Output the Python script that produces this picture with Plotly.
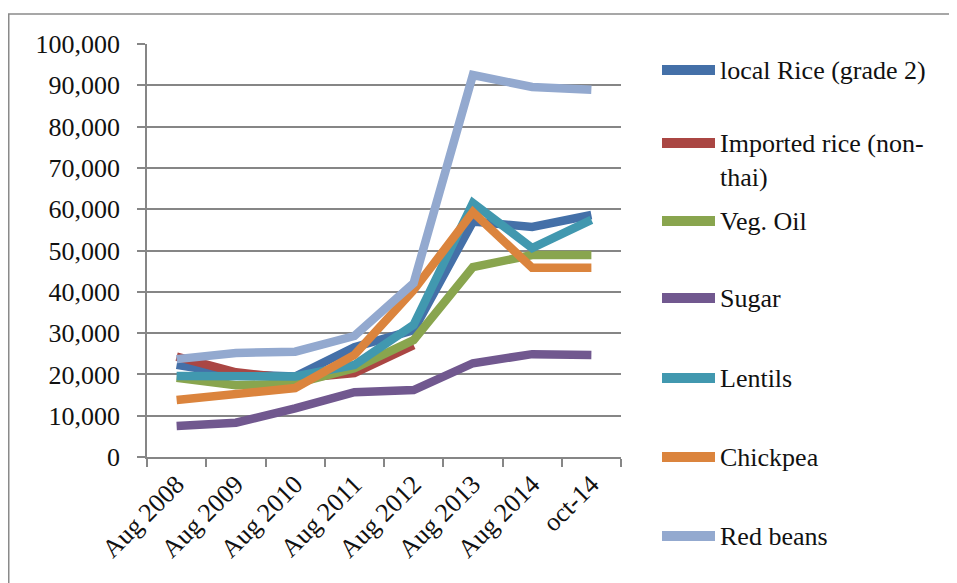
import plotly.graph_objects as go

periods = ["Aug 2008", "Aug 2009", "Aug 2010", "Aug 2011", "Aug 2012", "Aug 2013", "Aug 2014", "oct-14"]

local_rice = [22300, 20000, 19500, 26600, 30700, 57000, 55700, 58600]
imported_rice = [24300, 20500, 19000, 20300, 27100, None, None, None]
veg_oil = [19200, 17400, 17800, 21500, 28300, 46000, 48900, 48900]
sugar = [7500, 8300, 11800, 15700, 16200, 22700, 24900, 24700]
lentils = [19600, 19600, 19500, 22300, 32000, 61500, 50600, 57400]
chickpea = [13800, 15000, 16700, 24700, 40400, 59300, 45800, 45800]
red_beans = [23700, 25200, 25500, 29300, 42100, 92500, 89600, 88900]

names = ["local Rice (grade 2)", "Imported rice (non-<br>thai)", "Veg. Oil", "Sugar",
         "Lentils", "Chickpea", "Red beans"]
series = [local_rice, imported_rice, veg_oil, sugar, lentils, chickpea, red_beans]
colors = ["#4470A8", "#AA4643", "#89A54E", "#71588F", "#4198AF", "#DB843D", "#93A9CF"]

# page body has an 8px margin, so everything is laid out 8px up/left
OFF = 8
W, H = 957 - OFF, 583 - OFF
L, R, T, B = 147 - OFF, 621 - OFF, 44 - OFF, 457 - OFF
pw, ph = R - L, B - T
FONT = "Liberation Serif"

fig = go.Figure()
for name, vals, col in zip(names, series, colors):
    fig.add_trace(go.Scatter(x=periods, y=vals, mode="lines", name=name,
                             line=dict(color=col, width=8.5), connectgaps=False,
                             showlegend=False))

# legend drawn by hand, Excel style
leg_y = [70, 143, 221, 298, 378, 457, 536]
shapes = []
annotations = []
for name, col, py in zip(names, colors, leg_y):
    yp = (B - (py - OFF)) / ph
    shapes.append(dict(type="line", xref="paper", yref="paper",
                       x0=(662 - OFF - L) / pw, x1=(715 - OFF - L) / pw, y0=yp, y1=yp,
                       line=dict(color=col, width=10)))
    annotations.append(dict(xref="paper", yref="paper", x=(718 - OFF - L) / pw, y=yp,
                            text=name, showarrow=False, xanchor="left",
                            yanchor="top" if "<br>" in name else "middle",
                            yshift=16 if "<br>" in name else 0,
                            align="left",
                            font=dict(family=FONT, size=26, color="#111")))

# outer chart frame (left and top edges visible, the rest runs off the picture)
shapes.append(dict(type="rect", xref="paper", yref="paper",
                   x0=(0.75 - L) / pw, x1=(970 - L) / pw,
                   y0=(B - (14 - OFF)) / ph, y1=(B - 600) / ph,
                   line=dict(color="#8a8a8a", width=1.5), fillcolor="rgba(0,0,0,0)", layer="below"))

fig.update_layout(
    width=W, height=H,
    margin=dict(l=L, r=W - R, t=T, b=H - B),
    paper_bgcolor="white", plot_bgcolor="white",
    shapes=shapes, annotations=annotations,
    showlegend=False,
)
fig.update_xaxes(
    type="category", tickson="boundaries", ticks="outside", ticklen=8,
    tickcolor="#868686", tickwidth=1.5,
    showline=True, linecolor="#868686", linewidth=1.5, showgrid=False,
    tickangle=-45, tickfont=dict(family=FONT, size=26, color="#111"),
    range=[-0.5, 7.5],
)
fig.update_yaxes(
    range=[0, 100000], dtick=10000, tickformat=",", ticks="outside", ticklen=8,
    tickcolor="#868686", tickwidth=1.5,
    showline=True, linecolor="#868686", linewidth=1.5,
    showgrid=True, gridcolor="#868686", gridwidth=1.5, zeroline=False,
    ticklabelstandoff=12,
    tickfont=dict(family=FONT, size=26, color="#111"),
)

fig.write_html("out.html")
